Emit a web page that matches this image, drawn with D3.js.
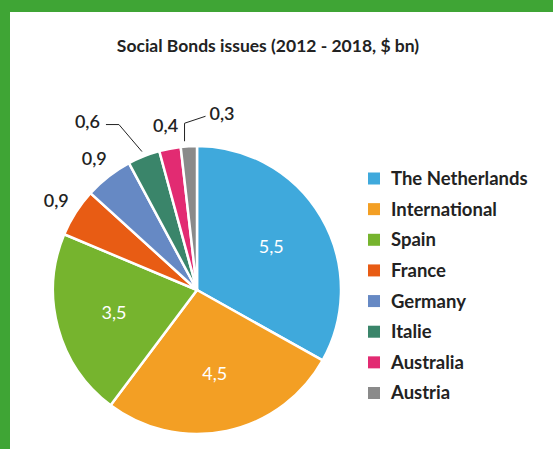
<!DOCTYPE html>
<html>
<head>
<meta charset="utf-8">
<script src="https://cdn.jsdelivr.net/npm/d3@7"></script>
<style>
  html, body { margin: 0; padding: 0; background: #fff; }
  svg { display: block; font-family: Lato, "Open Sans", sans-serif; }
</style>
</head>
<body>
<div id="chart"></div>
<script>
// data
const countries = ['The Netherlands', 'International', 'Spain', 'France', 'Germany', 'Italie', 'Australia', 'Austria'];
const issues = [5.5, 4.5, 3.5, 0.9, 0.9, 0.6, 0.4, 0.3];
const colours = ['#3fa9dc', '#f39f24', '#76b42e', '#e85c14', '#6689c4', '#3a856a', '#e22b72', '#8a8a8a'];

const width = 553;
const height = 449;
const cx = 197, cy = 290, radius = 144;

const data = countries.map(function(c, i) {
    return { name: c, value: issues[i], colour: colours[i] };
});

const svg = d3.select('#chart')
    .append('svg')
    .attr('width', width)
    .attr('height', height);

// green frame on the top and left
svg.append('rect').attr('x', 0).attr('y', 0).attr('width', width).attr('height', 12).attr('fill', '#3fa535');
svg.append('rect').attr('x', 0).attr('y', 0).attr('width', 10).attr('height', height).attr('fill', '#3fa535');

svg.append('text')
    .attr('x', 268)
    .attr('y', 52)
    .attr('text-anchor', 'middle')
    .attr('font-size', 17.5)
    .attr('font-weight', 'bold')
    .attr('fill', '#222')
    .text('Social Bonds issues (2012 - 2018, $ bn)');

const pie = d3.pie()
    .sort(null)
    .value(function(d) { return d.value; });

const arc = d3.arc().innerRadius(0).outerRadius(radius);
const inner = d3.arc().innerRadius(86).outerRadius(86);
const outer = d3.arc().innerRadius(167).outerRadius(167);

const arcs = pie(data);
const fmt = function(v) { return String(v).replace('.', ','); };

const g = svg.append('g')
    .attr('transform', 'translate(' + cx + ',' + cy + ')');

g.selectAll('path')
    .data(arcs)
    .enter()
    .append('path')
    .attr('d', arc)
    .attr('fill', function(d) { return d.data.colour; })
    .attr('stroke', '#fff')
    .attr('stroke-width', 2.5)
    .attr('stroke-linejoin', 'round');

// white labels inside the big slices
g.selectAll('.in-label')
    .data(arcs.filter(function(d) { return d.data.value > 2; }))
    .enter()
    .append('text')
    .attr('class', 'in-label')
    .attr('transform', function(d) { return 'translate(' + inner.centroid(d) + ')'; })
    .attr('text-anchor', 'middle')
    .attr('dy', '0.35em')
    .attr('font-size', 18)
    .attr('fill', '#fff')
    .text(function(d) { return fmt(d.data.value); });

// outside labels, two of them with leader lines (elbow offsets from the rim point)
const leaders = {
    'Italie': { bend: [-23, -27], end: [-13, 0], anchor: 'end' },
    'Austria': { bend: [-4, -18], end: [21, -7], anchor: 'start' }
};

const small = arcs.filter(function(d) { return d.data.value < 2; });

small.forEach(function(d) {
    const a = (d.startAngle + d.endAngle) / 2;
    const lead = leaders[d.data.name];
    if (lead) {
        const r0 = radius + 5;
        const p0 = [Math.sin(a) * r0, -Math.cos(a) * r0];
        const p1 = [p0[0] + lead.bend[0], p0[1] + lead.bend[1]];
        const p2 = [p1[0] + lead.end[0], p1[1] + lead.end[1]];
        g.append('path')
            .attr('d', d3.line()([lead.anchor === 'start' ? [p1[0], p0[1]] : p0, p1, p2]))
            .attr('fill', 'none')
            .attr('stroke', '#222')
            .attr('stroke-width', 1);
        g.append('text')
            .attr('x', p2[0] + (lead.anchor === 'end' ? -6 : 4))
            .attr('y', p2[1] + (lead.anchor === 'end' ? -3 : -3))
            .attr('dy', '0.35em')
            .attr('text-anchor', lead.anchor)
            .attr('font-size', 18)
            .attr('font-weight', 600)
            .attr('fill', '#222')
            .text(fmt(d.data.value));
    } else {
        g.append('text')
            .attr('transform', 'translate(' + outer.centroid(d) + ')')
            .attr('text-anchor', 'middle')
            .attr('dy', '0.35em')
            .attr('font-size', 18)
            .attr('font-weight', 600)
            .attr('fill', '#222')
            .text(fmt(d.data.value));
    }
});

// legend
const legendY = d3.scalePoint()
    .domain(countries)
    .range([178.5, 393]);

const legend = svg.append('g')
    .selectAll('g')
    .data(data)
    .enter()
    .append('g')
    .attr('transform', function(d) { return 'translate(368,' + legendY(d.name) + ')'; });

legend.append('rect')
    .attr('x', 0)
    .attr('y', -6)
    .attr('width', 12)
    .attr('height', 12)
    .attr('fill', function(d) { return d.colour; });

legend.append('text')
    .attr('x', 23)
    .attr('dy', '0.35em')
    .attr('font-size', 18.5)
    .attr('font-weight', 'bold')
    .attr('fill', '#222')
    .text(function(d) { return d.name; });
</script>
</body>
</html>
